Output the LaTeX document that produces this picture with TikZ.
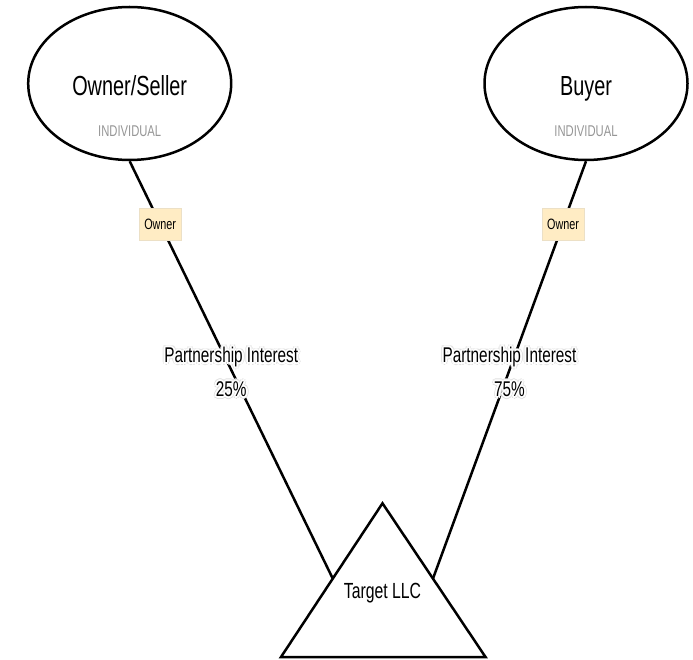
\documentclass[tikz,border=0pt]{standalone}
\usepackage{fontspec}
\setmainfont{Liberation Sans}[FakeStretch=0.72]
\usetikzlibrary{shapes.geometric,calc}

\definecolor{ownerfill}{RGB}{255,236,196}
\definecolor{ownerline}{RGB}{236,224,198}
\definecolor{subgray}{RGB}{150,150,150}

% text with a soft white halo so it stays readable over the connector
\newcommand\halotext[1]{%
  \foreach \hx/\hy in {2.8/0,-2.8/0,0/2.8,0/-2.8,2/2,2/-2,-2/2,-2/-2}{\rlap{\hskip\hx pt\raisebox{\hy pt}{\textcolor{black!12}{#1}}}}%
  \foreach \hx/\hy in {2/0,-2/0,0/2,0/-2,1.4/1.4,1.4/-1.4,-1.4/1.4,-1.4/-1.4,1/0,-1/0,0/1,0/-1}{\rlap{\hskip\hx pt\raisebox{\hy pt}{\textcolor{white}{#1}}}}%
  #1}

\begin{document}
\begin{tikzpicture}[x=1pt,y=-1pt,
  party/.style={ellipse, draw, line width=2.5pt, minimum width=203pt, minimum height=153pt, inner sep=0pt},
  partyname/.style={font=\fontsize{27.6}{33}\selectfont, inner sep=0pt, anchor=base},
  partykind/.style={font=\fontsize{15.6}{18}\selectfont, text=subgray, inner sep=0pt, anchor=base},
  link/.style={line width=2.5pt},
  rolebox/.style={fill=ownerfill, draw=ownerline, line width=0.6pt, font=\fontsize{15}{18}\selectfont,
                  minimum height=32pt, inner xsep=5pt, inner ysep=0pt},
  stake/.style={inner sep=0pt, anchor=base, font=\fontsize{21.3}{26}\selectfont},
  entity/.style={line width=2.5pt, line join=miter}
]
\fill[white] (0,0) rectangle (693,660);
\useasboundingbox (0,0) rectangle (693,660);

% owners
\node[party] (seller) at (129.7,83.5) {};
\node[partyname] (sellername) at (129.7,96) {Owner/Seller};
\node[partykind] (sellerkind) at (129.7,137) {INDIVIDUAL};

\node[party] (buyer) at (586,83.5) {};
\node[partyname] (buyername) at (586,96) {Buyer};
\node[partykind] (buyerkind) at (586,137) {INDIVIDUAL};

% the company
\coordinate (tapex) at (382.5,503.3);
\coordinate (tleft) at (281,657);
\coordinate (tright) at (485.5,657);
\coordinate (targetin1) at ($(tapex)!0.49!(tleft)$);
\coordinate (targetin2) at ($(tapex)!0.49!(tright)$);

% ownership links, each with its role tag and the interest held
\draw[link] (seller.south) -- node[pos=0.15, rolebox] (ownerA) {Owner}
  coordinate[midway] (midA) (targetin1);
\draw[link] (buyer.south) -- node[pos=0.15, rolebox] (ownerB) {Owner}
  coordinate[midway] (midB) (targetin2);

\node[stake] (stakeA) at ($(midA)+(0,-7)$) {\halotext{Partnership Interest}};
\node[stake] (pctA) at ($(midA)+(0,26.5)$) {\halotext{25\%}};
\node[stake] (stakeB) at ($(midB)+(0,-7)$) {\halotext{Partnership Interest}};
\node[stake] (pctB) at ($(midB)+(0,26.5)$) {\halotext{75\%}};

\draw[entity] (tapex) -- (tleft) -- (tright) -- cycle;
\node[font=\fontsize{21.9}{26}\selectfont, inner sep=0pt, anchor=base] (target) at (382.5,598) {Target LLC};
\end{tikzpicture}
\end{document}
